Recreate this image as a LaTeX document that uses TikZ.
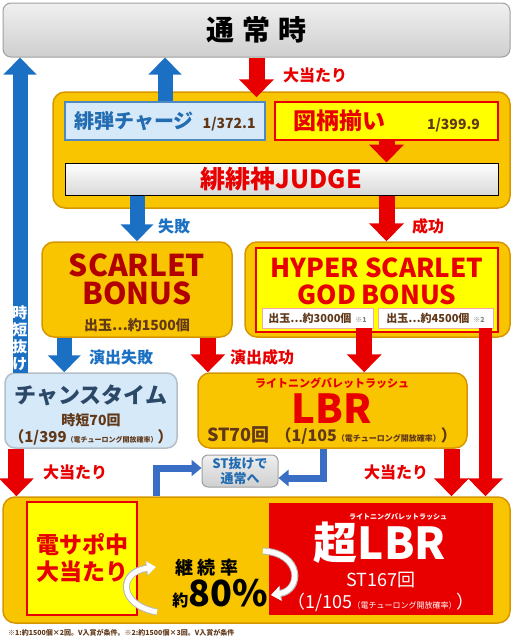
\documentclass[tikz,border=0pt]{standalone}
\usepackage{fontspec}
\setmainfont{Noto Sans CJK JP}
\usetikzlibrary{arrows.meta,positioning,calc}

\definecolor{gold}{RGB}{249,196,0}
\definecolor{golddraw}{RGB}{214,150,0}
\definecolor{hotred}{RGB}{232,0,0}
\definecolor{darkred}{RGB}{178,0,0}
\definecolor{arrowblue}{RGB}{28,112,196}
\definecolor{linkblue}{RGB}{58,110,196}
\definecolor{paleblue}{RGB}{214,233,248}
\definecolor{chargeblue}{RGB}{34,108,178}
\definecolor{chancetext}{RGB}{44,72,104}
\definecolor{textbrown}{RGB}{96,56,24}
\definecolor{lightyellow}{RGB}{255,255,0}

\newcommand{\fsz}[1]{\fontsize{#1}{#1}\selectfont}

\tikzset{
    x=1pt, y=-1pt, % one unit is one pixel, y runs downwards
    every node/.style={font=\bfseries, inner sep=0pt}, % bold text everywhere
    goldbox/.style={draw=golddraw, line width=1.5pt, fill=gold, rounded corners=12pt}, % yellow stage boxes
    graybar/.style={draw=gray!75, line width=1pt, top color=gray!12, bottom color=gray!38, rounded corners=8pt}, % grey boxes
    redarrow/.style={draw=hotred, line width=16pt, -{Triangle[width=34pt,length=18pt]}}, % win arrows
    bluearrow/.style={draw=arrowblue, line width=15pt, -{Triangle[width=32pt,length=17pt]}}, % lose arrows
    bluelink/.style={draw=linkblue, line width=7pt, -{Triangle[width=16pt,length=10pt]}}, % back to normal
    swirl/.style={white, line width=5pt, -{Triangle[width=13pt,length=9pt]},
        preaction={draw=gray!55, line width=7pt, -{Triangle[width=15pt,length=10pt]}}}, % loop arrows
}
\tikzstyle{redlabel}=[text=hotred, font=\bfseries\fsz{16}]
\tikzstyle{bluelabel}=[text=arrowblue, font=\bfseries\fsz{16}]

\begin{document}
\begin{tikzpicture}
    \useasboundingbox (0,0) rectangle (514,640);

    % normal state
    \node[graybar, minimum width=507pt, minimum height=54pt] (normal) at (256.5,30)
        {\fsz{28}通\hspace{8pt}常\hspace{8pt}時};

    % first draw
    \node[goldbox, minimum width=457pt, minimum height=116pt] (main) at (281.5,150) {};
    \node[draw=chargeblue!80, line width=1.2pt, fill=paleblue, minimum width=200pt, minimum height=38pt] (charge) at (165,121)
        {\fsz{20}\color{chargeblue}緋弾チャージ\hspace{9pt}\fsz{14}\color{textbrown}1/372.1};
    \node[draw=hotred, line width=1.5pt, fill=lightyellow, minimum width=223pt, minimum height=38pt] (jackpot) at (386.5,121)
        {\fsz{23}\color{hotred}図柄揃い\hspace{42pt}\fsz{14}\color{textbrown}1/399.9};
    \node[draw=black, line width=1pt, top color=white, bottom color=gray!30, minimum width=433pt, minimum height=32pt] (judge) at (281.5,179)
        {\fsz{25}\color{hotred}緋緋神JUDGE};

    % bonuses
    \node[goldbox, minimum width=190pt, minimum height=95pt] (scarlet) at (137,289.5) {};
    \node[text=darkred, align=center, font=\bfseries\fontsize{30}{28}\selectfont] (scarlettitle) at (137,279) {SCARLET\\BONUS};
    \node[text=textbrown, font=\bfseries\fsz{14}] (scarletout) at (137,325) {出玉…約1500個};

    \node[goldbox, minimum width=265pt, minimum height=95pt] (hyper) at (377.5,289.5) {};
    \node[draw=hotred, line width=2pt, fill=lightyellow, minimum width=242pt, minimum height=84pt] (hyperframe) at (377,290) {};
    \node[text=hotred, align=center, font=\bfseries\fontsize{26}{27}\selectfont] (hypertitle) at (377,281) {HYPER SCARLET\\GOD BONUS};
    \node[draw=hotred!35, fill=white, minimum width=111pt, minimum height=20pt, text=textbrown] (out3000) at (317.5,318)
        {\fsz{11}出玉…約3000個\hspace{4pt}{\fsz{7}\color{gray}※1}};
    \node[draw=hotred!35, fill=white, minimum width=115pt, minimum height=20pt, text=textbrown] (out4500) at (435.5,318)
        {\fsz{11}出玉…約4500個\hspace{4pt}{\fsz{7}\color{gray}※2}};

    % after the bonus
    \node[draw=paleblue!60!gray, line width=1.5pt, fill=paleblue, rounded corners=10pt, minimum width=172pt, minimum height=75pt] (chance) at (91,410.5) {};
    \node[text=chancetext, font=\bfseries\fsz{22}] (chancename) at (91,395) {チャンスタイム};
    \node[text=textbrown, font=\bfseries\fsz{14}] (chancetime) at (91,420) {時短70回};
    \node[text=textbrown] (chanceprob) at (91,437) {\fsz{15}（1/399{\fsz{7}（電チューロング開放確率）}）};

    \node[goldbox, minimum width=269pt, minimum height=75pt] (lbr) at (332.5,410.5) {};
    \node[text=hotred, font=\bfseries\fsz{11}] (lbrruby) at (332,383) {ライトニングバレットラッシュ};
    \node[text=hotred, font=\bfseries\fsz{40}] (lbrname) at (332,409) {LBR};
    \node[text=textbrown] (lbrprob) at (332,436) {\fsz{18}ST70回\hspace{6pt}\fsz{16}（1/105{\fsz{8}（電チューロング開放確率）}）};

    \node[graybar, rounded corners=6pt, minimum width=76pt, minimum height=32pt, align=center, text=chargeblue, font=\bfseries\fontsize{13}{15}\selectfont] (st) at (240,471)
        {ST抜けで\\通常へ};

    % rush
    \node[goldbox, minimum width=507pt, minimum height=126pt] (bottom) at (256.5,560) {};
    \node[draw=hotred, line width=2pt, fill=lightyellow, minimum width=110pt, minimum height=113pt, align=center,
        text=hotred, font=\bfseries\fontsize{23}{27}\selectfont] (densapo) at (82,558.5) {電サポ中\\大当たり};
    \node[fill=hotred, minimum width=224pt, minimum height=112pt] (superlbr) at (381,559) {};
    \node[text=white, font=\bfseries\fsz{7}] (superruby) at (398,517) {ライトニングバレットラッシュ};
    \node[text=white, font=\bfseries\fsz{44}] (supername) at (380,543) {超LBR};
    \node[text=white, font=\mdseries\fsz{18}] (superst) at (381,580) {ST167回};
    \node[text=white, font=\mdseries] (superprob) at (381,602) {\fsz{18}（1/105{\fsz{8}（電チューロング開放確率）}）};
    \node[font=\bfseries\fsz{18}] (rate) at (207,568) {継\hspace{5pt}続\hspace{5pt}率};
    \node[font=\bfseries] (ratevalue) at (220,594) {\fsz{16}約\fsz{36}80\%};
    \draw[swirl] (157,612) .. controls (118,605) and (118,572) .. (156,567);
    \draw[swirl] (263,551) .. controls (302,553) and (302,590) .. (271,595);

    % arrows
    \draw[redarrow] (normal.south) -- ($(normal.south |- main.north)+(0,6)$);
    \draw[bluearrow] (charge.north) -- (charge.north |- normal.south);
    \coordinate (railfoot) at (20,373);
    \draw[bluearrow] (railfoot) -- (railfoot |- normal.south);
    \node[align=center, text=white, font=\bfseries\fontsize{15}{17}\selectfont] (railtext) at (20,338) {時\\短\\抜\\け};
    \draw[redarrow] (jackpot.south) -- (jackpot.south |- judge.north);
    \draw[bluearrow] (scarlet.north |- judge.south) -- (scarlet.north);
    \draw[redarrow] (jackpot.south |- judge.south) -- (jackpot.south |- hyper.north);

    \coordinate (failout) at ($(scarlet.south west)!0.12!(scarlet.south east)$);
    \coordinate (winout) at ($(scarlet.south west)!0.87!(scarlet.south east)$);
    \coordinate (godleft) at ($(hyper.south west)!0.45!(hyper.south east)$);
    \coordinate (godright) at ($(hyper.south west)!0.905!(hyper.south east)$);
    \draw[bluearrow] (failout) -- (failout |- chance.north);
    \draw[redarrow] (winout) -- (winout |- lbr.north);
    \draw[redarrow] (godleft |- out3000.south) -- (godleft |- lbr.north);
    \draw[redarrow, line width=13pt] (godright |- out4500.south) -- (godright |- bottom.north);

    \coordinate (chancehit) at ($(chance.south west)!0.07!(chance.south east)$);
    \coordinate (lbrhit) at ($(lbr.south west)!0.94!(lbr.south east)$);
    \draw[redarrow] (chancehit) -- (chancehit |- bottom.north);
    \draw[redarrow] (lbrhit) -- (lbrhit |- bottom.north);

    \coordinate (stin) at ($(bottom.north west)!0.304!(bottom.north east)$);
    \coordinate (stout) at ($(lbr.south west)!0.465!(lbr.south east)$);
    \draw[bluelink] (stin) |- ([yshift=3pt]st.west);
    \draw[bluelink] (stout) |- ([yshift=-7pt]st.east);

    % labels
    \node[redlabel] (hitnormal) at (315,75) {大当たり};
    \node[bluelabel] (faillabel) at (174,226) {失敗};
    \node[redlabel] (winlabel) at (428,226) {成功};
    \node[bluelabel] (showfail) at (121,357) {演出失敗};
    \node[redlabel] (showwin) at (262,357) {演出成功};
    \node[redlabel] (hitchance) at (75,472) {大当たり};
    \node[redlabel] (hitlbr) at (396,472) {大当たり};

    % footnote
    \node[anchor=west, text=textbrown, font=\bfseries\fsz{7}] (footnote) at (8,633)
        {※1:約1500個×2回。V入賞が条件。※2:約1500個×3回。V入賞が条件};
\end{tikzpicture}
\end{document}
